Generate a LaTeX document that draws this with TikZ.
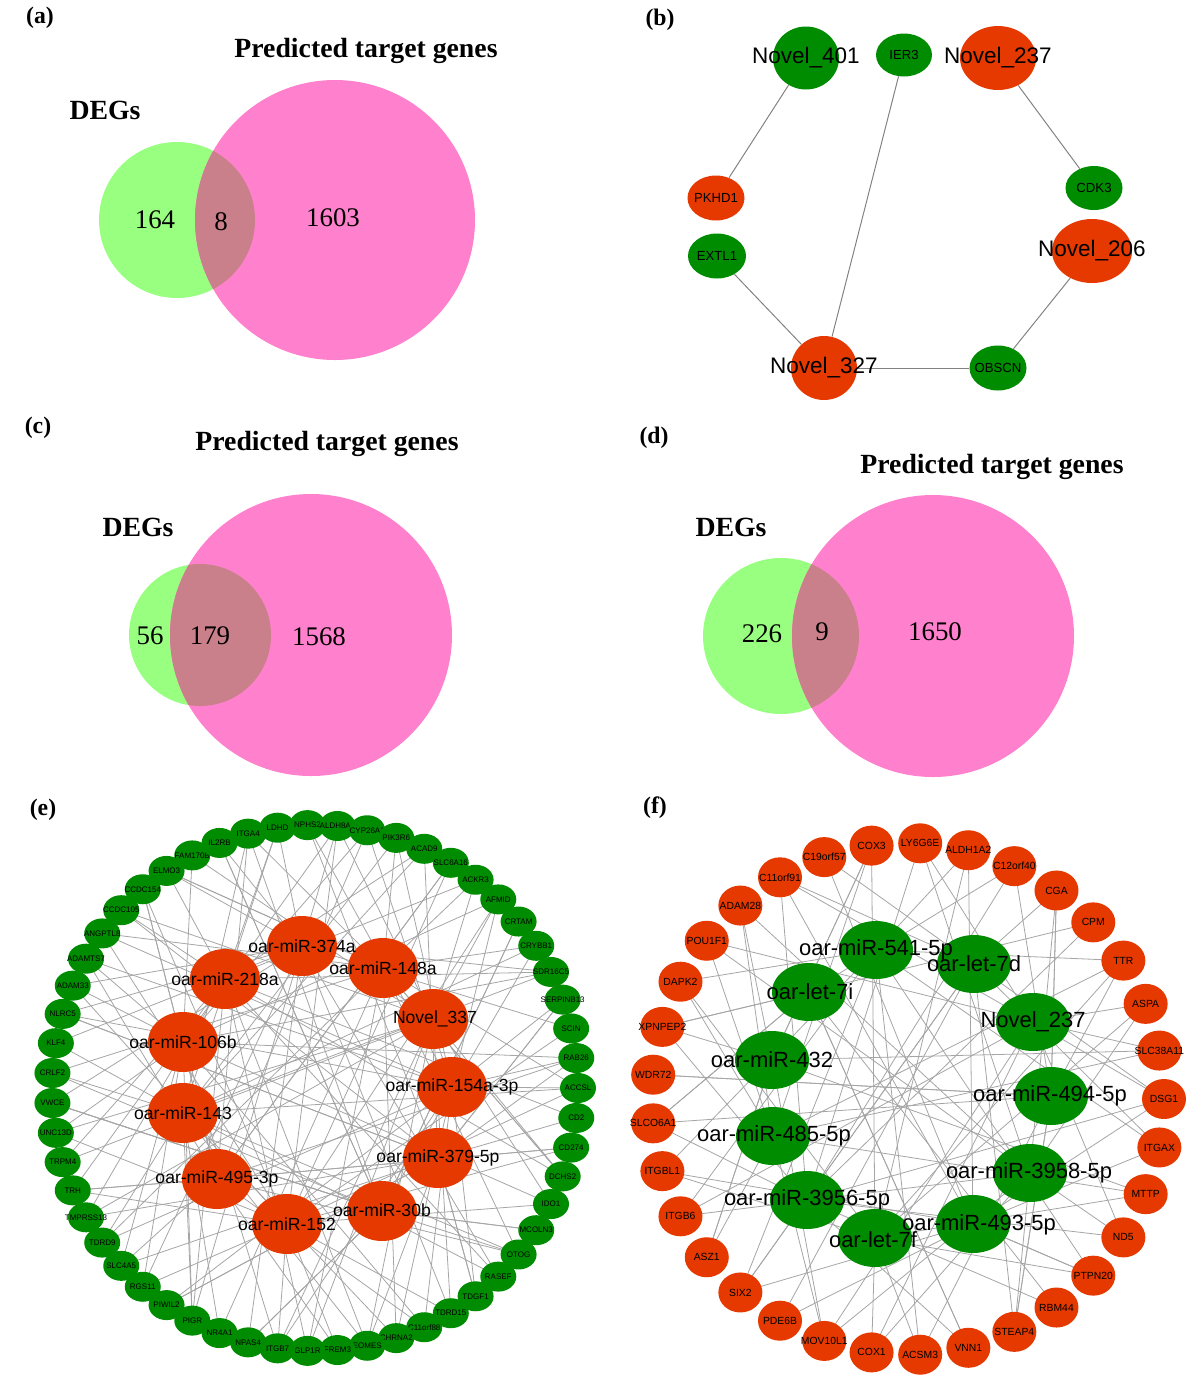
\documentclass[tikz,border=0pt]{standalone}
\usepackage{fontspec}
\setmainfont{Liberation Serif}
\setsansfont{Liberation Sans}
\usetikzlibrary{backgrounds,shapes.geometric}
\definecolor{vgreen}{RGB}{153,255,128}
\definecolor{vpink}{RGB}{255,128,204}
\definecolor{vover}{RGB}{201,128,138}
\definecolor{ngreen}{RGB}{0,140,0}
\definecolor{nred}{RGB}{229,57,0}
\definecolor{edgegray}{RGB}{165,165,165}
\tikzset{
  plabel/.style={font=\fontsize{13.5}{14}\selectfont\bfseries, inner sep=0pt},
  vtitle/.style={font=\fontsize{15.8}{17}\selectfont\bfseries, inner sep=0pt},
  vnum/.style={font=\fontsize{15.3}{16}\selectfont, inner sep=0pt},
  netnode/.style={ellipse, inner sep=0pt, draw=none},
  bbig/.style={netnode, font=\sffamily\fontsize{12.8}{13}\selectfont},
  bsmall/.style={netnode, font=\sffamily\fontsize{7.5}{8}\selectfont},
  bedge/.style={draw=gray, line width=0.55pt},
  eout/.style={netnode, fill=ngreen, minimum width=0.72cm, minimum height=0.6cm, font=\sffamily\fontsize{4.55}{5}\selectfont},
  ein/.style={netnode, fill=nred, minimum width=1.4cm, minimum height=1.2cm},
  elab/.style={inner sep=0pt, font=\sffamily\fontsize{10}{11}\selectfont},
  fout/.style={netnode, fill=nred, minimum width=0.88cm, minimum height=0.8cm, font=\sffamily\fontsize{5.9}{6}\selectfont},
  fin/.style={netnode, fill=ngreen, minimum width=1.48cm, minimum height=1.16cm},
  flab/.style={inner sep=0pt, font=\sffamily\fontsize{12.5}{13}\selectfont},
  netedge/.style={draw=edgegray, line width=0.45pt}
}
\begin{document}
\begin{tikzpicture}[x=0.02cm,y=-0.02cm]
\begin{pgfonlayer}{background}
\fill[white] (0,0) rectangle (1203,1377);
\end{pgfonlayer}
\useasboundingbox (0,0) rectangle (1203,1377);

% panel labels
\node[plabel] (pa) at (40,18) {(a)};
\node[plabel] (pb) at (660,20) {(b)};
\node[plabel] (pc) at (38,428) {(c)};
\node[plabel] (pd) at (654,438) {(d)};
\node[plabel] (pe) at (43,810) {(e)};
\node[plabel] (pf) at (655,808) {(f)};

% ---------- (a) Venn ----------
\fill[vgreen] (177,220) circle (78);
\fill[vpink] (335,220) circle (140);
\begin{scope}
\clip (177,220) circle (78);
\fill[vover] (335,220) circle (140);
\end{scope}
\node[vtitle] (ta) at (366,51) {Predicted target genes};
\node[vtitle] (da) at (105,110) {DEGs};
\node[vnum] (a1) at (155,220) {164};
\node[vnum] (a2) at (221,222) {8};
\node[vnum] (a3) at (333,218) {1603};

% ---------- (c) Venn ----------
\fill[vgreen] (200,635) circle (71);
\fill[vpink] (311,635) circle (141);
\begin{scope}
\clip (200,635) circle (71);
\fill[vover] (311,635) circle (141);
\end{scope}
\node[vtitle] (tc) at (327,444) {Predicted target genes};
\node[vtitle] (dc) at (138,527) {DEGs};
\node[vnum] (c1) at (150,636) {56};
\node[vnum] (c2) at (210,636) {179};
\node[vnum] (c3) at (319,637) {1568};

% ---------- (d) Venn ----------
\fill[vgreen] (781,636) circle (78);
\fill[vpink] (933,636) circle (141);
\begin{scope}
\clip (781,636) circle (78);
\fill[vover] (933,636) circle (141);
\end{scope}
\node[vtitle] (td) at (992,467) {Predicted target genes};
\node[vtitle] (dd) at (731,527) {DEGs};
\node[vnum] (d1) at (762,634) {226};
\node[vnum] (d2) at (822,632) {9};
\node[vnum] (d3) at (935,632) {1650};

% ---------- (b) network ----------
\node[bbig, fill=ngreen, minimum width=1.32cm, minimum height=1.26cm] (n401) at (806,58) {\makebox[0pt]{Novel\_401}};
\node[bsmall, fill=ngreen, minimum width=1.12cm, minimum height=0.86cm] (ier3) at (904,55) {\makebox[0pt]{IER3}};
\node[bbig, fill=nred, minimum width=1.52cm, minimum height=1.28cm] (n237) at (998,58) {\makebox[0pt]{Novel\_237}};
\node[bsmall, fill=ngreen, minimum width=1.14cm, minimum height=0.88cm] (cdk3) at (1094,188) {\makebox[0pt]{CDK3}};
\node[bsmall, fill=nred, minimum width=1.14cm, minimum height=0.9cm] (pkhd1) at (716,198) {\makebox[0pt]{PKHD1}};
\node[bsmall, fill=ngreen, minimum width=1.16cm, minimum height=0.9cm] (extl1) at (717,256) {\makebox[0pt]{EXTL1}};
\node[bbig, fill=nred, minimum width=1.6cm, minimum height=1.28cm] (n206) at (1092,251) {\makebox[0pt]{Novel\_206}};
\node[bbig, fill=nred, minimum width=1.32cm, minimum height=1.28cm] (n327) at (824,368) {\makebox[0pt]{Novel\_327}};
\node[bsmall, fill=ngreen, minimum width=1.14cm, minimum height=0.9cm] (obscn) at (998,368) {\makebox[0pt]{OBSCN}};
\begin{pgfonlayer}{background}
\draw[bedge] (n401) -- (pkhd1);
\draw[bedge] (ier3) -- (n327);
\draw[bedge] (n237) -- (cdk3);
\draw[bedge] (n206) -- (obscn);
\draw[bedge] (n327) -- (obscn);
\draw[bedge] (extl1) -- (n327);
\end{pgfonlayer}

% ---------- (e) network ----------
\foreach \nm [count=\i from 0] in {ACCSL,CD2,CD274,DCHS2,IDO1,MCOLN3,OTOG,RASEF,TDGF1,TDRD15,C11orf88,CHRNA2,EOMES,FREM3,GLP1R,ITGB7,NPAS4,NR4A1,PIGR,PIWIL2,RGS11,SLC4A5,TDRD9,TMPRSS13,TRH,TRPM4,UNC13D,VWCE,CRLF2,KLF4,NLRC5,ADAM33,ADAMTS7,ANGPTL8,CCDC105,CCDC154,ELMO3,FAM170B,IL2RB,ITGA4,LDHD,NPHS2,ALDH8A1,CYP26A1,PIK3R6,ACAD9,SLC6A16,ACKR3,AFMID,CRTAM,CRYBB1,SDR16C5,SERPINB13,SCIN,RAB26}{
  \node[eout] (e\i) at ({315+263*cos(6.545454*\i)},{1088+263*sin(6.545454*\i)}) {\makebox[0pt]{\nm}};
}
\node[ein] (er0) at (302,946) {};
\node[ein] (er1) at (383,968) {};
\node[ein] (er2) at (433,1019) {};
\node[ein] (er3) at (452,1087) {};
\node[ein] (er4) at (438,1158) {};
\node[ein] (er5) at (382,1211) {};
\node[ein] (er6) at (287,1224) {};
\node[ein] (er7) at (217,1179) {};
\node[ein] (er8) at (183,1113) {};
\node[ein] (er9) at (183,1042) {};
\node[ein] (er10) at (225,979) {};
\node[elab] (el0) at (er0) {oar-miR-374a};
\node[elab] (el1) at (er1) {oar-miR-148a};
\node[elab] (el2) at (435,1019) {Novel\_337};
\node[elab] (el3) at (er3) {oar-miR-154a-3p};
\node[elab] (el4) at (er4) {oar-miR-379-5p};
\node[elab] (el5) at (382,1210) {oar-miR-30b};
\node[elab] (el6) at (er6) {oar-miR-152};
\node[elab] (el7) at (er7) {oar-miR-495-3p};
\node[elab] (el8) at (er8) {oar-miR-143};
\node[elab] (el9) at (er9) {oar-miR-106b};
\node[elab] (el10) at (er10) {oar-miR-218a};
\begin{pgfonlayer}{background}
\foreach \i in {0,...,54}{
  \pgfmathtruncatemacro\ea{mod(7*\i+3,11)}
  \pgfmathtruncatemacro\eb{mod(3*\i+1,11)}
  \pgfmathtruncatemacro\ec{mod(5*\i+8,11)}
  \pgfmathtruncatemacro\ed{mod(2*\i+6,11)}
  \pgfmathtruncatemacro\mf{mod(\i,4)}
  \pgfmathtruncatemacro\mt{mod(\i,3)}
  \draw[netedge] (e\i.center) -- (er\ea.center);
  \draw[netedge] (e\i.center) -- (er\eb.center);
  \ifnum\mf=1 \else \draw[netedge] (e\i.center) -- (er\ec.center); \fi
  \ifnum\mt=0 \draw[netedge] (e\i.center) -- (er\ed.center); \fi
}
\end{pgfonlayer}

% ---------- (f) network ----------
\foreach \nm [count=\i from 0] in {DSG1,ITGAX,MTTP,ND5,PTPN20,RBM44,STEAP4,VNN1,ACSM3,COX1,MOV10L1,PDE6B,SIX2,ASZ1,ITGB6,ITGBL1,SLCO6A1,WDR72,XPNPEP2,DAPK2,POU1F1,ADAM28,C11orf91,C19orf57,COX3,LY6G6E,ALDH1A2,C12orf40,CGA,CPM,TTR,ASPA,SLC38A11}{
  \node[fout] (f\i) at ({908+256*cos(10.909091*\i)},{1099+256*sin(10.909091*\i)}) {\makebox[0pt]{\nm}};
}
\node[fin] (fg0) at (876,950) {};
\node[fin] (fg1) at (974,964) {};
\node[fin] (fg2) at (1033,1022) {};
\node[fin] (fg3) at (1051,1096) {};
\node[fin] (fg4) at (1030,1173) {};
\node[fin] (fg5) at (973,1224) {};
\node[fin] (fg6) at (875,1238) {};
\node[fin] (fg7) at (807,1200) {};
\node[fin] (fg8) at (773,1136) {};
\node[fin] (fg9) at (772,1060) {};
\node[fin] (fg10) at (809,992) {};
\node[flab] (fl0) at (876,950) {oar-miR-541-5p};
\node[flab] (fl1) at (974,964) {oar-let-7d};
\node[flab] (fl2) at (1033,1022) {Novel\_237};
\node[flab] (fl3) at (1050,1096) {oar-miR-494-5p};
\node[flab] (fl4) at (1029,1173) {oar-miR-3958-5p};
\node[flab] (fl5) at (979,1225) {oar-miR-493-5p};
\node[flab] (fl6) at (873,1240) {oar-let-7f};
\node[flab] (fl7) at (807,1200) {oar-miR-3956-5p};
\node[flab] (fl8) at (774,1136) {oar-miR-485-5p};
\node[flab] (fl9) at (772,1060) {oar-miR-432};
\node[flab] (fl10) at (810,992) {oar-let-7i};
\begin{pgfonlayer}{background}
\foreach \i in {0,...,32}{
  \pgfmathtruncatemacro\fa{mod(4*\i+1,11)}
  \pgfmathtruncatemacro\fb{mod(7*\i+5,11)}
  \pgfmathtruncatemacro\fc{mod(9*\i+2,11)}
  \pgfmathtruncatemacro\fd{mod(5*\i+7,11)}
  \pgfmathtruncatemacro\mt{mod(\i,3)}
  \pgfmathtruncatemacro\mw{mod(\i,2)}
  \draw[netedge] (f\i.center) -- (fg\fa.center);
  \draw[netedge] (f\i.center) -- (fg\fb.center);
  \ifnum\mt=2 \else \draw[netedge] (f\i.center) -- (fg\fc.center); \fi
  \ifnum\mw=0 \draw[netedge] (f\i.center) -- (fg\fd.center); \fi
}
\end{pgfonlayer}
\end{tikzpicture}
\end{document}
